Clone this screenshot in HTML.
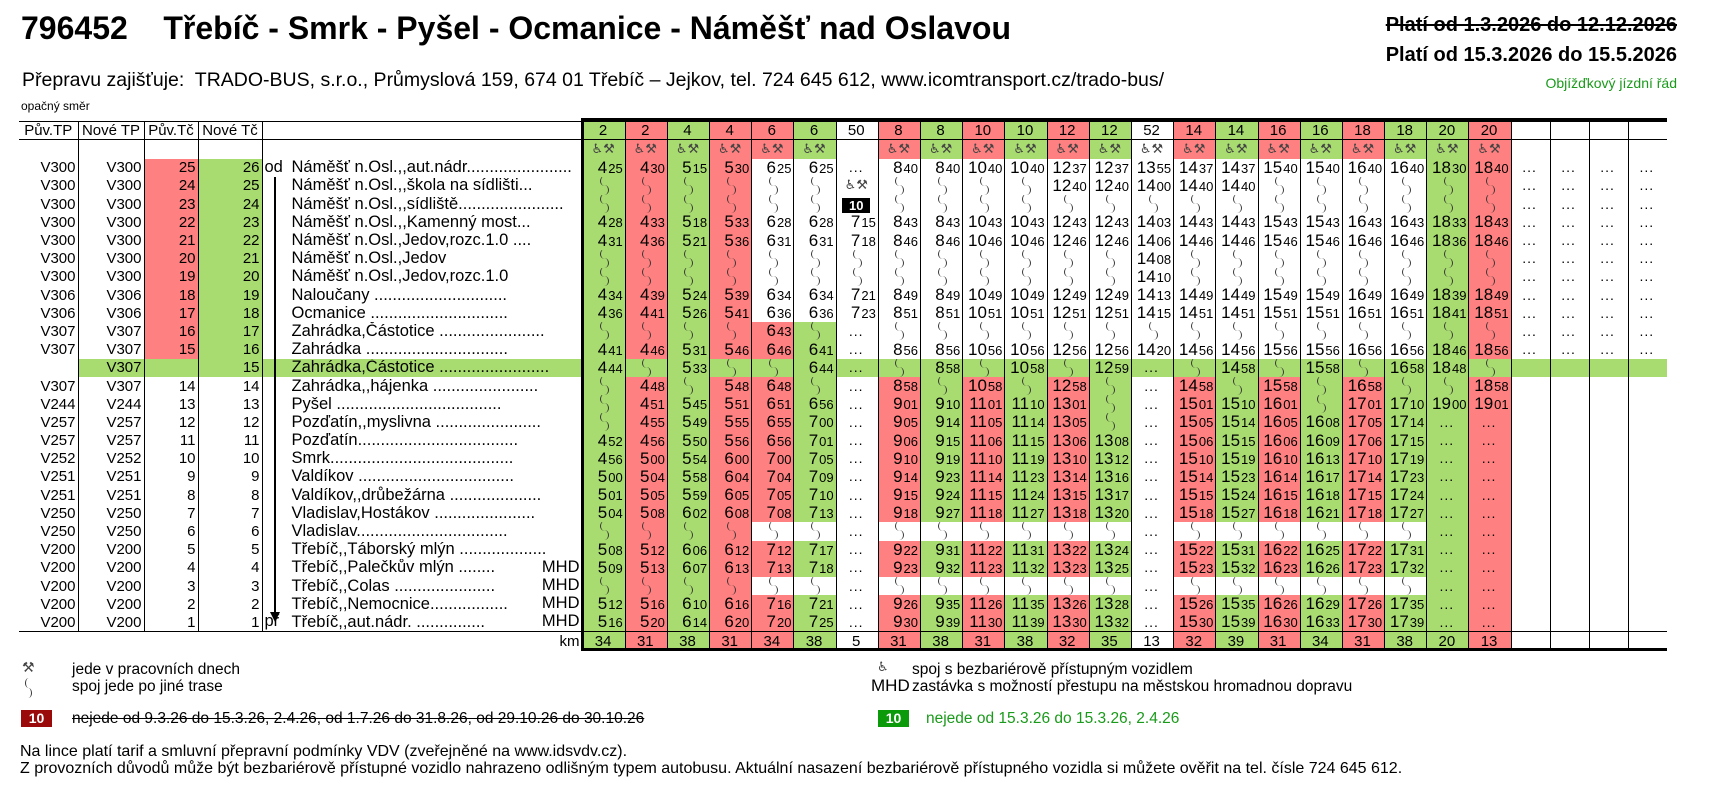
<!DOCTYPE html>
<html><head><meta charset="utf-8">
<style>
*{margin:0;padding:0;box-sizing:border-box}
body{width:1726px;height:798px;background:#fff;position:relative;overflow:hidden;font-family:"Liberation Sans",Arial,sans-serif;color:#000}
.a{position:absolute;white-space:nowrap}
.ico{font-family:"DejaVu Sans",sans-serif}
table{position:absolute;left:19px;top:121px;border-collapse:collapse;table-layout:fixed;width:1648px}
td{padding:0;white-space:nowrap;overflow:hidden;line-height:17px;font-size:17px;vertical-align:middle}
tr{height:18.2px}
tr.h td{height:18px;font-size:15px;text-align:center;border-top:1px solid #000;border-bottom:1px solid #000}
tr.ic td{height:19px;font-size:13px;color:#444;text-align:center;font-family:"DejaVu Sans",sans-serif}
tr.km td{height:18px;font-size:15px;text-align:center;border-top:1px solid #000}
td.L{font-size:15px;text-align:right;padding-right:2px;border-right:1px solid #000}
tr.km td.L{border-right:none}
td.n{position:relative;padding-left:29px;border-right:1px solid #000;font-size:16.5px}
td.n .od{position:absolute;left:2px;top:0;font-weight:normal}
td.n .m{position:absolute;right:3px;top:0;background:inherit}
.T{border-left:1px solid #000;text-align:right;padding-right:2px}
td i{font-style:normal;font-size:13px;margin-left:1px}
.w{background:#fff!important}
.R{background:#FF8080}.G{background:#A8DC70}
tr.g td{background:#A8DC70}
tr.g td.w{background:#fff}
td.d{text-align:center;font-size:14px;letter-spacing:1px}
td.s{position:relative}
td.s:before,td.s:after{content:"";position:absolute;left:calc(50% - 4px);width:8px;height:10px;border-radius:50%}
td.s:before{top:-1px;border-left:1px solid #333}
td.s:after{top:8px;left:calc(50% - 4px);border-right:1px solid #333}
.bd{display:inline-block;background:#000;color:#fff;font-weight:bold;font-size:13px;width:28px;line-height:15px;text-align:center}
</style></head><body>
<div class="a" style="left:21px;top:10px;font-size:32px;font-weight:bold;line-height:36px">796452&nbsp;&nbsp;&nbsp; Třebíč - Smrk - Pyšel - Ocmanice - Náměšť nad Oslavou</div>
<div class="a" style="right:49px;top:13px;font-size:20px;font-weight:bold;text-decoration:line-through;line-height:24px">Platí od 1.3.2026 do 12.12.2026</div>
<div class="a" style="right:49px;top:43px;font-size:20px;font-weight:bold;line-height:24px">Platí od 15.3.2026 do 15.5.2026</div>
<div class="a" style="right:49px;top:75px;font-size:14px;color:#1a9a1a;line-height:17px">Objížďkový jízdní řád</div>
<div class="a" style="left:22px;top:69px;font-size:19.5px;line-height:22px">Přepravu zajišťuje:&nbsp; TRADO-BUS, s.r.o., Průmyslová 159, 674 01 Třebíč – Jejkov, tel. 724 645 612, www.icomtransport.cz/trado-bus/</div>
<div class="a" style="left:21px;top:99px;font-size:12px;line-height:14px">opačný směr</div>

<table>
<colgroup><col style="width:59px"><col style="width:66px"><col style="width:54px"><col style="width:64px"><col style="width:321px">
<col class="G" style="width:42.2px"><col class="R" style="width:42.2px"><col class="G" style="width:42.2px"><col class="R" style="width:42.2px"><col class="R" style="width:42.2px"><col class="G" style="width:42.2px"><col style="width:42.2px"><col class="R" style="width:42.2px"><col class="G" style="width:42.2px"><col class="R" style="width:42.2px"><col class="G" style="width:42.2px"><col class="R" style="width:42.2px"><col class="G" style="width:42.2px"><col style="width:42.2px"><col class="R" style="width:42.2px"><col class="G" style="width:42.2px"><col class="R" style="width:42.2px"><col class="G" style="width:42.2px"><col class="R" style="width:42.2px"><col class="G" style="width:42.2px"><col class="G" style="width:42.2px"><col class="R" style="width:42.2px"><col style="width:39px"><col style="width:39px"><col style="width:39px"><col style="width:39px"></colgroup>
<tr class="h"><td style="border-right:1px solid #000">Pův.TP</td><td style="border-right:1px solid #000">Nové TP</td><td style="border-right:1px solid #000">Pův.Tč</td><td style="border-right:1px solid #000">Nové Tč</td><td></td><td class="T" style="text-align:center">2</td><td class="T" style="text-align:center">2</td><td class="T" style="text-align:center">4</td><td class="T" style="text-align:center">4</td><td class="T" style="text-align:center">6</td><td class="T" style="text-align:center">6</td><td class="T" style="text-align:center">50</td><td class="T" style="text-align:center">8</td><td class="T" style="text-align:center">8</td><td class="T" style="text-align:center">10</td><td class="T" style="text-align:center">10</td><td class="T" style="text-align:center">12</td><td class="T" style="text-align:center">12</td><td class="T" style="text-align:center">52</td><td class="T" style="text-align:center">14</td><td class="T" style="text-align:center">14</td><td class="T" style="text-align:center">16</td><td class="T" style="text-align:center">16</td><td class="T" style="text-align:center">18</td><td class="T" style="text-align:center">18</td><td class="T" style="text-align:center">20</td><td class="T" style="text-align:center">20</td><td class="T"></td><td class="T"></td><td class="T"></td><td class="T"></td></tr>
<tr class="ic"><td class="L"></td><td class="L"></td><td class="L"></td><td class="L"></td><td class="n"></td><td class="T" style="text-align:center">♿&#xFE0E;⚒&#xFE0E;</td><td class="T" style="text-align:center">♿&#xFE0E;⚒&#xFE0E;</td><td class="T" style="text-align:center">♿&#xFE0E;⚒&#xFE0E;</td><td class="T" style="text-align:center">♿&#xFE0E;⚒&#xFE0E;</td><td class="T" style="text-align:center">♿&#xFE0E;⚒&#xFE0E;</td><td class="T" style="text-align:center">♿&#xFE0E;⚒&#xFE0E;</td><td class="T"></td><td class="T" style="text-align:center">♿&#xFE0E;⚒&#xFE0E;</td><td class="T" style="text-align:center">♿&#xFE0E;⚒&#xFE0E;</td><td class="T" style="text-align:center">♿&#xFE0E;⚒&#xFE0E;</td><td class="T" style="text-align:center">♿&#xFE0E;⚒&#xFE0E;</td><td class="T" style="text-align:center">♿&#xFE0E;⚒&#xFE0E;</td><td class="T" style="text-align:center">♿&#xFE0E;⚒&#xFE0E;</td><td class="T" style="text-align:center">♿&#xFE0E;⚒&#xFE0E;</td><td class="T" style="text-align:center">♿&#xFE0E;⚒&#xFE0E;</td><td class="T" style="text-align:center">♿&#xFE0E;⚒&#xFE0E;</td><td class="T" style="text-align:center">♿&#xFE0E;⚒&#xFE0E;</td><td class="T" style="text-align:center">♿&#xFE0E;⚒&#xFE0E;</td><td class="T" style="text-align:center">♿&#xFE0E;⚒&#xFE0E;</td><td class="T" style="text-align:center">♿&#xFE0E;⚒&#xFE0E;</td><td class="T" style="text-align:center">♿&#xFE0E;⚒&#xFE0E;</td><td class="T" style="text-align:center">♿&#xFE0E;⚒&#xFE0E;</td><td class="T"></td><td class="T"></td><td class="T"></td><td class="T"></td></tr>
<tr><td class="L">V300</td><td class="L">V300</td><td class="L R">25</td><td class="L G">26</td><td class="n"><span class="od">od</span>Náměšť n.Osl.,,aut.nádr.......................</td><td class="T">4<i>25</i></td><td class="T">4<i>30</i></td><td class="T">5<i>15</i></td><td class="T">5<i>30</i></td><td class="T w">6<i>25</i></td><td class="T w">6<i>25</i></td><td class="T d">...</td><td class="T w">8<i>40</i></td><td class="T w">8<i>40</i></td><td class="T w">10<i>40</i></td><td class="T w">10<i>40</i></td><td class="T w">12<i>37</i></td><td class="T w">12<i>37</i></td><td class="T">13<i>55</i></td><td class="T w">14<i>37</i></td><td class="T w">14<i>37</i></td><td class="T w">15<i>40</i></td><td class="T w">15<i>40</i></td><td class="T w">16<i>40</i></td><td class="T w">16<i>40</i></td><td class="T">18<i>30</i></td><td class="T">18<i>40</i></td><td class="T d">...</td><td class="T d">...</td><td class="T d">...</td><td class="T d">...</td></tr>
<tr><td class="L">V300</td><td class="L">V300</td><td class="L R">24</td><td class="L G">25</td><td class="n">Náměšť n.Osl.,,škola na sídlišti...</td><td class="T s"></td><td class="T s"></td><td class="T s"></td><td class="T s"></td><td class="T s w"></td><td class="T s w"></td><td class="T ico" style="text-align:center;font-size:13px;color:#444">♿&#xFE0E;⚒&#xFE0E;</td><td class="T s w"></td><td class="T s w"></td><td class="T s w"></td><td class="T s w"></td><td class="T w">12<i>40</i></td><td class="T w">12<i>40</i></td><td class="T">14<i>00</i></td><td class="T w">14<i>40</i></td><td class="T w">14<i>40</i></td><td class="T s w"></td><td class="T s w"></td><td class="T s w"></td><td class="T s w"></td><td class="T s"></td><td class="T s"></td><td class="T d">...</td><td class="T d">...</td><td class="T d">...</td><td class="T d">...</td></tr>
<tr><td class="L">V300</td><td class="L">V300</td><td class="L R">23</td><td class="L G">24</td><td class="n">Náměšť n.Osl.,,sídliště.......................</td><td class="T s"></td><td class="T s"></td><td class="T s"></td><td class="T s"></td><td class="T s w"></td><td class="T s w"></td><td class="T" style="text-align:center"><span class="bd">10</span></td><td class="T s w"></td><td class="T s w"></td><td class="T s w"></td><td class="T s w"></td><td class="T s w"></td><td class="T s w"></td><td class="T s"></td><td class="T s w"></td><td class="T s w"></td><td class="T s w"></td><td class="T s w"></td><td class="T s w"></td><td class="T s w"></td><td class="T s"></td><td class="T s"></td><td class="T d">...</td><td class="T d">...</td><td class="T d">...</td><td class="T d">...</td></tr>
<tr><td class="L">V300</td><td class="L">V300</td><td class="L R">22</td><td class="L G">23</td><td class="n">Náměšť n.Osl.,,Kamenný most...</td><td class="T">4<i>28</i></td><td class="T">4<i>33</i></td><td class="T">5<i>18</i></td><td class="T">5<i>33</i></td><td class="T w">6<i>28</i></td><td class="T w">6<i>28</i></td><td class="T">7<i>15</i></td><td class="T w">8<i>43</i></td><td class="T w">8<i>43</i></td><td class="T w">10<i>43</i></td><td class="T w">10<i>43</i></td><td class="T w">12<i>43</i></td><td class="T w">12<i>43</i></td><td class="T">14<i>03</i></td><td class="T w">14<i>43</i></td><td class="T w">14<i>43</i></td><td class="T w">15<i>43</i></td><td class="T w">15<i>43</i></td><td class="T w">16<i>43</i></td><td class="T w">16<i>43</i></td><td class="T">18<i>33</i></td><td class="T">18<i>43</i></td><td class="T d">...</td><td class="T d">...</td><td class="T d">...</td><td class="T d">...</td></tr>
<tr><td class="L">V300</td><td class="L">V300</td><td class="L R">21</td><td class="L G">22</td><td class="n">Náměšť n.Osl.,Jedov,rozc.1.0 ....</td><td class="T">4<i>31</i></td><td class="T">4<i>36</i></td><td class="T">5<i>21</i></td><td class="T">5<i>36</i></td><td class="T w">6<i>31</i></td><td class="T w">6<i>31</i></td><td class="T">7<i>18</i></td><td class="T w">8<i>46</i></td><td class="T w">8<i>46</i></td><td class="T w">10<i>46</i></td><td class="T w">10<i>46</i></td><td class="T w">12<i>46</i></td><td class="T w">12<i>46</i></td><td class="T">14<i>06</i></td><td class="T w">14<i>46</i></td><td class="T w">14<i>46</i></td><td class="T w">15<i>46</i></td><td class="T w">15<i>46</i></td><td class="T w">16<i>46</i></td><td class="T w">16<i>46</i></td><td class="T">18<i>36</i></td><td class="T">18<i>46</i></td><td class="T d">...</td><td class="T d">...</td><td class="T d">...</td><td class="T d">...</td></tr>
<tr><td class="L">V300</td><td class="L">V300</td><td class="L R">20</td><td class="L G">21</td><td class="n">Náměšť n.Osl.,Jedov</td><td class="T s"></td><td class="T s"></td><td class="T s"></td><td class="T s"></td><td class="T s w"></td><td class="T s w"></td><td class="T s"></td><td class="T s w"></td><td class="T s w"></td><td class="T s w"></td><td class="T s w"></td><td class="T s w"></td><td class="T s w"></td><td class="T">14<i>08</i></td><td class="T s w"></td><td class="T s w"></td><td class="T s w"></td><td class="T s w"></td><td class="T s w"></td><td class="T s w"></td><td class="T s"></td><td class="T s"></td><td class="T d">...</td><td class="T d">...</td><td class="T d">...</td><td class="T d">...</td></tr>
<tr><td class="L">V300</td><td class="L">V300</td><td class="L R">19</td><td class="L G">20</td><td class="n">Náměšť n.Osl.,Jedov,rozc.1.0</td><td class="T s"></td><td class="T s"></td><td class="T s"></td><td class="T s"></td><td class="T s w"></td><td class="T s w"></td><td class="T s"></td><td class="T s w"></td><td class="T s w"></td><td class="T s w"></td><td class="T s w"></td><td class="T s w"></td><td class="T s w"></td><td class="T">14<i>10</i></td><td class="T s w"></td><td class="T s w"></td><td class="T s w"></td><td class="T s w"></td><td class="T s w"></td><td class="T s w"></td><td class="T s"></td><td class="T s"></td><td class="T d">...</td><td class="T d">...</td><td class="T d">...</td><td class="T d">...</td></tr>
<tr><td class="L">V306</td><td class="L">V306</td><td class="L R">18</td><td class="L G">19</td><td class="n">Naloučany .............................</td><td class="T">4<i>34</i></td><td class="T">4<i>39</i></td><td class="T">5<i>24</i></td><td class="T">5<i>39</i></td><td class="T w">6<i>34</i></td><td class="T w">6<i>34</i></td><td class="T">7<i>21</i></td><td class="T w">8<i>49</i></td><td class="T w">8<i>49</i></td><td class="T w">10<i>49</i></td><td class="T w">10<i>49</i></td><td class="T w">12<i>49</i></td><td class="T w">12<i>49</i></td><td class="T">14<i>13</i></td><td class="T w">14<i>49</i></td><td class="T w">14<i>49</i></td><td class="T w">15<i>49</i></td><td class="T w">15<i>49</i></td><td class="T w">16<i>49</i></td><td class="T w">16<i>49</i></td><td class="T">18<i>39</i></td><td class="T">18<i>49</i></td><td class="T d">...</td><td class="T d">...</td><td class="T d">...</td><td class="T d">...</td></tr>
<tr><td class="L">V306</td><td class="L">V306</td><td class="L R">17</td><td class="L G">18</td><td class="n">Ocmanice ..............................</td><td class="T">4<i>36</i></td><td class="T">4<i>41</i></td><td class="T">5<i>26</i></td><td class="T">5<i>41</i></td><td class="T w">6<i>36</i></td><td class="T w">6<i>36</i></td><td class="T">7<i>23</i></td><td class="T w">8<i>51</i></td><td class="T w">8<i>51</i></td><td class="T w">10<i>51</i></td><td class="T w">10<i>51</i></td><td class="T w">12<i>51</i></td><td class="T w">12<i>51</i></td><td class="T">14<i>15</i></td><td class="T w">14<i>51</i></td><td class="T w">14<i>51</i></td><td class="T w">15<i>51</i></td><td class="T w">15<i>51</i></td><td class="T w">16<i>51</i></td><td class="T w">16<i>51</i></td><td class="T">18<i>41</i></td><td class="T">18<i>51</i></td><td class="T d">...</td><td class="T d">...</td><td class="T d">...</td><td class="T d">...</td></tr>
<tr><td class="L">V307</td><td class="L">V307</td><td class="L R">16</td><td class="L G">17</td><td class="n">Zahrádka,Částotice .......................</td><td class="T s"></td><td class="T s"></td><td class="T s"></td><td class="T s"></td><td class="T">6<i>43</i></td><td class="T s"></td><td class="T d">...</td><td class="T s w"></td><td class="T s w"></td><td class="T s w"></td><td class="T s w"></td><td class="T s w"></td><td class="T s w"></td><td class="T s"></td><td class="T s w"></td><td class="T s w"></td><td class="T s w"></td><td class="T s w"></td><td class="T s w"></td><td class="T s w"></td><td class="T s"></td><td class="T s"></td><td class="T d">...</td><td class="T d">...</td><td class="T d">...</td><td class="T d">...</td></tr>
<tr><td class="L">V307</td><td class="L">V307</td><td class="L R">15</td><td class="L G">16</td><td class="n">Zahrádka ...............................</td><td class="T">4<i>41</i></td><td class="T">4<i>46</i></td><td class="T">5<i>31</i></td><td class="T">5<i>46</i></td><td class="T">6<i>46</i></td><td class="T">6<i>41</i></td><td class="T d">...</td><td class="T w">8<i>56</i></td><td class="T w">8<i>56</i></td><td class="T w">10<i>56</i></td><td class="T w">10<i>56</i></td><td class="T w">12<i>56</i></td><td class="T w">12<i>56</i></td><td class="T">14<i>20</i></td><td class="T w">14<i>56</i></td><td class="T w">14<i>56</i></td><td class="T w">15<i>56</i></td><td class="T w">15<i>56</i></td><td class="T w">16<i>56</i></td><td class="T w">16<i>56</i></td><td class="T">18<i>46</i></td><td class="T">18<i>56</i></td><td class="T d">...</td><td class="T d">...</td><td class="T d">...</td><td class="T d">...</td></tr>
<tr class="g"><td class="L w"></td><td class="L">V307</td><td class="L"></td><td class="L">15</td><td class="n">Zahrádka,Částotice ........................</td><td class="T">4<i>44</i></td><td class="T s"></td><td class="T">5<i>33</i></td><td class="T s"></td><td class="T s"></td><td class="T">6<i>44</i></td><td class="T d">...</td><td class="T s"></td><td class="T">8<i>58</i></td><td class="T s"></td><td class="T">10<i>58</i></td><td class="T s"></td><td class="T">12<i>59</i></td><td class="T d">...</td><td class="T s"></td><td class="T">14<i>58</i></td><td class="T s"></td><td class="T">15<i>58</i></td><td class="T s"></td><td class="T">16<i>58</i></td><td class="T">18<i>48</i></td><td class="T s"></td><td class="T"></td><td class="T"></td><td class="T"></td><td class="T"></td></tr>
<tr><td class="L">V307</td><td class="L">V307</td><td class="L">14</td><td class="L">14</td><td class="n">Zahrádka,,hájenka .......................</td><td class="T s"></td><td class="T">4<i>48</i></td><td class="T s"></td><td class="T">5<i>48</i></td><td class="T">6<i>48</i></td><td class="T s"></td><td class="T d">...</td><td class="T">8<i>58</i></td><td class="T s"></td><td class="T">10<i>58</i></td><td class="T s"></td><td class="T">12<i>58</i></td><td class="T s"></td><td class="T d">...</td><td class="T">14<i>58</i></td><td class="T s"></td><td class="T">15<i>58</i></td><td class="T s"></td><td class="T">16<i>58</i></td><td class="T s"></td><td class="T s"></td><td class="T">18<i>58</i></td><td class="T"></td><td class="T"></td><td class="T"></td><td class="T"></td></tr>
<tr><td class="L">V244</td><td class="L">V244</td><td class="L">13</td><td class="L">13</td><td class="n">Pyšel ....................................</td><td class="T s"></td><td class="T">4<i>51</i></td><td class="T">5<i>45</i></td><td class="T">5<i>51</i></td><td class="T">6<i>51</i></td><td class="T">6<i>56</i></td><td class="T d">...</td><td class="T">9<i>01</i></td><td class="T">9<i>10</i></td><td class="T">11<i>01</i></td><td class="T">11<i>10</i></td><td class="T">13<i>01</i></td><td class="T s"></td><td class="T d">...</td><td class="T">15<i>01</i></td><td class="T">15<i>10</i></td><td class="T">16<i>01</i></td><td class="T s"></td><td class="T">17<i>01</i></td><td class="T">17<i>10</i></td><td class="T">19<i>00</i></td><td class="T">19<i>01</i></td><td class="T"></td><td class="T"></td><td class="T"></td><td class="T"></td></tr>
<tr><td class="L">V257</td><td class="L">V257</td><td class="L">12</td><td class="L">12</td><td class="n">Pozďatín,,myslivna .......................</td><td class="T s"></td><td class="T">4<i>55</i></td><td class="T">5<i>49</i></td><td class="T">5<i>55</i></td><td class="T">6<i>55</i></td><td class="T">7<i>00</i></td><td class="T d">...</td><td class="T">9<i>05</i></td><td class="T">9<i>14</i></td><td class="T">11<i>05</i></td><td class="T">11<i>14</i></td><td class="T">13<i>05</i></td><td class="T s"></td><td class="T d">...</td><td class="T">15<i>05</i></td><td class="T">15<i>14</i></td><td class="T">16<i>05</i></td><td class="T">16<i>08</i></td><td class="T">17<i>05</i></td><td class="T">17<i>14</i></td><td class="T d">...</td><td class="T d">...</td><td class="T"></td><td class="T"></td><td class="T"></td><td class="T"></td></tr>
<tr><td class="L">V257</td><td class="L">V257</td><td class="L">11</td><td class="L">11</td><td class="n">Pozďatín...................................</td><td class="T">4<i>52</i></td><td class="T">4<i>56</i></td><td class="T">5<i>50</i></td><td class="T">5<i>56</i></td><td class="T">6<i>56</i></td><td class="T">7<i>01</i></td><td class="T d">...</td><td class="T">9<i>06</i></td><td class="T">9<i>15</i></td><td class="T">11<i>06</i></td><td class="T">11<i>15</i></td><td class="T">13<i>06</i></td><td class="T">13<i>08</i></td><td class="T d">...</td><td class="T">15<i>06</i></td><td class="T">15<i>15</i></td><td class="T">16<i>06</i></td><td class="T">16<i>09</i></td><td class="T">17<i>06</i></td><td class="T">17<i>15</i></td><td class="T d">...</td><td class="T d">...</td><td class="T"></td><td class="T"></td><td class="T"></td><td class="T"></td></tr>
<tr><td class="L">V252</td><td class="L">V252</td><td class="L">10</td><td class="L">10</td><td class="n">Smrk........................................</td><td class="T">4<i>56</i></td><td class="T">5<i>00</i></td><td class="T">5<i>54</i></td><td class="T">6<i>00</i></td><td class="T">7<i>00</i></td><td class="T">7<i>05</i></td><td class="T d">...</td><td class="T">9<i>10</i></td><td class="T">9<i>19</i></td><td class="T">11<i>10</i></td><td class="T">11<i>19</i></td><td class="T">13<i>10</i></td><td class="T">13<i>12</i></td><td class="T d">...</td><td class="T">15<i>10</i></td><td class="T">15<i>19</i></td><td class="T">16<i>10</i></td><td class="T">16<i>13</i></td><td class="T">17<i>10</i></td><td class="T">17<i>19</i></td><td class="T d">...</td><td class="T d">...</td><td class="T"></td><td class="T"></td><td class="T"></td><td class="T"></td></tr>
<tr><td class="L">V251</td><td class="L">V251</td><td class="L">9</td><td class="L">9</td><td class="n">Valdíkov ..................................</td><td class="T">5<i>00</i></td><td class="T">5<i>04</i></td><td class="T">5<i>58</i></td><td class="T">6<i>04</i></td><td class="T">7<i>04</i></td><td class="T">7<i>09</i></td><td class="T d">...</td><td class="T">9<i>14</i></td><td class="T">9<i>23</i></td><td class="T">11<i>14</i></td><td class="T">11<i>23</i></td><td class="T">13<i>14</i></td><td class="T">13<i>16</i></td><td class="T d">...</td><td class="T">15<i>14</i></td><td class="T">15<i>23</i></td><td class="T">16<i>14</i></td><td class="T">16<i>17</i></td><td class="T">17<i>14</i></td><td class="T">17<i>23</i></td><td class="T d">...</td><td class="T d">...</td><td class="T"></td><td class="T"></td><td class="T"></td><td class="T"></td></tr>
<tr><td class="L">V251</td><td class="L">V251</td><td class="L">8</td><td class="L">8</td><td class="n">Valdíkov,,drůbežárna ....................</td><td class="T">5<i>01</i></td><td class="T">5<i>05</i></td><td class="T">5<i>59</i></td><td class="T">6<i>05</i></td><td class="T">7<i>05</i></td><td class="T">7<i>10</i></td><td class="T d">...</td><td class="T">9<i>15</i></td><td class="T">9<i>24</i></td><td class="T">11<i>15</i></td><td class="T">11<i>24</i></td><td class="T">13<i>15</i></td><td class="T">13<i>17</i></td><td class="T d">...</td><td class="T">15<i>15</i></td><td class="T">15<i>24</i></td><td class="T">16<i>15</i></td><td class="T">16<i>18</i></td><td class="T">17<i>15</i></td><td class="T">17<i>24</i></td><td class="T d">...</td><td class="T d">...</td><td class="T"></td><td class="T"></td><td class="T"></td><td class="T"></td></tr>
<tr><td class="L">V250</td><td class="L">V250</td><td class="L">7</td><td class="L">7</td><td class="n">Vladislav,Hostákov ......................</td><td class="T">5<i>04</i></td><td class="T">5<i>08</i></td><td class="T">6<i>02</i></td><td class="T">6<i>08</i></td><td class="T">7<i>08</i></td><td class="T">7<i>13</i></td><td class="T d">...</td><td class="T">9<i>18</i></td><td class="T">9<i>27</i></td><td class="T">11<i>18</i></td><td class="T">11<i>27</i></td><td class="T">13<i>18</i></td><td class="T">13<i>20</i></td><td class="T d">...</td><td class="T">15<i>18</i></td><td class="T">15<i>27</i></td><td class="T">16<i>18</i></td><td class="T">16<i>21</i></td><td class="T">17<i>18</i></td><td class="T">17<i>27</i></td><td class="T d">...</td><td class="T d">...</td><td class="T"></td><td class="T"></td><td class="T"></td><td class="T"></td></tr>
<tr><td class="L">V250</td><td class="L">V250</td><td class="L">6</td><td class="L">6</td><td class="n">Vladislav.................................</td><td class="T s"></td><td class="T s"></td><td class="T s"></td><td class="T s"></td><td class="T s w"></td><td class="T s w"></td><td class="T d">...</td><td class="T s w"></td><td class="T s w"></td><td class="T s w"></td><td class="T s w"></td><td class="T s w"></td><td class="T s w"></td><td class="T d">...</td><td class="T s w"></td><td class="T s w"></td><td class="T s w"></td><td class="T s w"></td><td class="T s w"></td><td class="T s w"></td><td class="T d">...</td><td class="T d">...</td><td class="T"></td><td class="T"></td><td class="T"></td><td class="T"></td></tr>
<tr><td class="L">V200</td><td class="L">V200</td><td class="L">5</td><td class="L">5</td><td class="n">Třebíč,,Táborský mlýn ...................</td><td class="T">5<i>08</i></td><td class="T">5<i>12</i></td><td class="T">6<i>06</i></td><td class="T">6<i>12</i></td><td class="T">7<i>12</i></td><td class="T">7<i>17</i></td><td class="T d">...</td><td class="T">9<i>22</i></td><td class="T">9<i>31</i></td><td class="T">11<i>22</i></td><td class="T">11<i>31</i></td><td class="T">13<i>22</i></td><td class="T">13<i>24</i></td><td class="T d">...</td><td class="T">15<i>22</i></td><td class="T">15<i>31</i></td><td class="T">16<i>22</i></td><td class="T">16<i>25</i></td><td class="T">17<i>22</i></td><td class="T">17<i>31</i></td><td class="T d">...</td><td class="T d">...</td><td class="T"></td><td class="T"></td><td class="T"></td><td class="T"></td></tr>
<tr><td class="L">V200</td><td class="L">V200</td><td class="L">4</td><td class="L">4</td><td class="n">Třebíč,,Palečkův mlýn ........<span class="m">MHD</span></td><td class="T">5<i>09</i></td><td class="T">5<i>13</i></td><td class="T">6<i>07</i></td><td class="T">6<i>13</i></td><td class="T">7<i>13</i></td><td class="T">7<i>18</i></td><td class="T d">...</td><td class="T">9<i>23</i></td><td class="T">9<i>32</i></td><td class="T">11<i>23</i></td><td class="T">11<i>32</i></td><td class="T">13<i>23</i></td><td class="T">13<i>25</i></td><td class="T d">...</td><td class="T">15<i>23</i></td><td class="T">15<i>32</i></td><td class="T">16<i>23</i></td><td class="T">16<i>26</i></td><td class="T">17<i>23</i></td><td class="T">17<i>32</i></td><td class="T d">...</td><td class="T d">...</td><td class="T"></td><td class="T"></td><td class="T"></td><td class="T"></td></tr>
<tr><td class="L">V200</td><td class="L">V200</td><td class="L">3</td><td class="L">3</td><td class="n">Třebíč,,Colas ......................<span class="m">MHD</span></td><td class="T s"></td><td class="T s"></td><td class="T s"></td><td class="T s"></td><td class="T s w"></td><td class="T s w"></td><td class="T d">...</td><td class="T s w"></td><td class="T s w"></td><td class="T s w"></td><td class="T s w"></td><td class="T s w"></td><td class="T s w"></td><td class="T d">...</td><td class="T s w"></td><td class="T s w"></td><td class="T s w"></td><td class="T s w"></td><td class="T s w"></td><td class="T s w"></td><td class="T d">...</td><td class="T d">...</td><td class="T"></td><td class="T"></td><td class="T"></td><td class="T"></td></tr>
<tr><td class="L">V200</td><td class="L">V200</td><td class="L">2</td><td class="L">2</td><td class="n">Třebíč,,Nemocnice.................<span class="m">MHD</span></td><td class="T">5<i>12</i></td><td class="T">5<i>16</i></td><td class="T">6<i>10</i></td><td class="T">6<i>16</i></td><td class="T">7<i>16</i></td><td class="T">7<i>21</i></td><td class="T d">...</td><td class="T">9<i>26</i></td><td class="T">9<i>35</i></td><td class="T">11<i>26</i></td><td class="T">11<i>35</i></td><td class="T">13<i>26</i></td><td class="T">13<i>28</i></td><td class="T d">...</td><td class="T">15<i>26</i></td><td class="T">15<i>35</i></td><td class="T">16<i>26</i></td><td class="T">16<i>29</i></td><td class="T">17<i>26</i></td><td class="T">17<i>35</i></td><td class="T d">...</td><td class="T d">...</td><td class="T"></td><td class="T"></td><td class="T"></td><td class="T"></td></tr>
<tr><td class="L">V200</td><td class="L">V200</td><td class="L">1</td><td class="L">1</td><td class="n"><span class="od">př</span>Třebíč,,aut.nádr. ...............<span class="m">MHD</span></td><td class="T">5<i>16</i></td><td class="T">5<i>20</i></td><td class="T">6<i>14</i></td><td class="T">6<i>20</i></td><td class="T">7<i>20</i></td><td class="T">7<i>25</i></td><td class="T d">...</td><td class="T">9<i>30</i></td><td class="T">9<i>39</i></td><td class="T">11<i>30</i></td><td class="T">11<i>39</i></td><td class="T">13<i>30</i></td><td class="T">13<i>32</i></td><td class="T d">...</td><td class="T">15<i>30</i></td><td class="T">15<i>39</i></td><td class="T">16<i>30</i></td><td class="T">16<i>33</i></td><td class="T">17<i>30</i></td><td class="T">17<i>39</i></td><td class="T d">...</td><td class="T d">...</td><td class="T"></td><td class="T"></td><td class="T"></td><td class="T"></td></tr>
<tr class="km"><td></td><td></td><td></td><td></td><td style="text-align:right;padding-right:3px">km</td><td class="T" style="text-align:center">34</td><td class="T" style="text-align:center">31</td><td class="T" style="text-align:center">38</td><td class="T" style="text-align:center">31</td><td class="T" style="text-align:center">34</td><td class="T" style="text-align:center">38</td><td class="T" style="text-align:center">5</td><td class="T" style="text-align:center">31</td><td class="T" style="text-align:center">38</td><td class="T" style="text-align:center">31</td><td class="T" style="text-align:center">38</td><td class="T" style="text-align:center">32</td><td class="T" style="text-align:center">35</td><td class="T" style="text-align:center">13</td><td class="T" style="text-align:center">32</td><td class="T" style="text-align:center">39</td><td class="T" style="text-align:center">31</td><td class="T" style="text-align:center">34</td><td class="T" style="text-align:center">31</td><td class="T" style="text-align:center">38</td><td class="T" style="text-align:center">20</td><td class="T" style="text-align:center">13</td><td class="T"></td><td class="T"></td><td class="T"></td><td class="T"></td></tr>
</table>

<div class="a" style="left:581px;top:118px;width:1086px;height:4px;background:#000"></div>
<div class="a" style="left:581px;top:118px;width:3px;height:533px;background:#000"></div>
<div class="a" style="left:581px;top:648px;width:1086px;height:3px;background:#000"></div>
<div class="a" style="left:274px;top:177px;width:2px;height:440px;background:#000"></div>
<div class="a" style="left:270px;top:612px;width:0;height:0;border-left:5px solid transparent;border-right:5px solid transparent;border-top:10px solid #000"></div>

<div class="a ico" style="left:22px;top:660px;font-size:14px;color:#444">⚒&#xFE0E;</div>
<div class="a" style="left:25px;top:678px;width:8px;height:20px">
<div style="position:absolute;left:0;top:0;width:7px;height:10px;border-left:1px solid #333;border-radius:50%"></div>
<div style="position:absolute;left:0;top:10px;width:7px;height:10px;border-right:1px solid #333;border-radius:50%"></div></div>
<div class="a" style="left:72px;top:661px;font-size:15.5px;line-height:17px">jede v pracovních dnech</div>
<div class="a" style="left:72px;top:678px;font-size:15.5px;line-height:17px">spoj jede po jiné trase</div>
<div class="a ico" style="left:877px;top:660px;font-size:13px;color:#444">♿&#xFE0E;</div>
<div class="a" style="left:871px;top:676px;font-size:17px;line-height:20px">MHD</div>
<div class="a" style="left:912px;top:661px;font-size:15.5px;line-height:17px">spoj s bezbariérově přístupným vozidlem</div>
<div class="a" style="left:912px;top:678px;font-size:15.5px;line-height:17px">zastávka s možností přestupu na městskou hromadnou dopravu</div>
<div class="a" style="left:21px;top:710px;width:31px;height:17px;background:#9a0a0a;color:#fff;font-weight:bold;font-size:14px;line-height:17px;text-align:center">10</div>
<div class="a" style="left:72px;top:710px;font-size:15.5px;line-height:17px;text-decoration:line-through">nejede od 9.3.26 do 15.3.26, 2.4.26, od 1.7.26 do 31.8.26, od 29.10.26 do 30.10.26</div>
<div class="a" style="left:878px;top:710px;width:31px;height:17px;background:#0a9a0a;color:#fff;font-weight:bold;font-size:14px;line-height:17px;text-align:center">10</div>
<div class="a" style="left:926px;top:710px;font-size:15.5px;line-height:17px;color:#1a9a1a">nejede od 15.3.26 do 15.3.26, 2.4.26</div>
<div class="a" style="left:20px;top:743px;font-size:16px;line-height:17px">Na lince platí tarif a smluvní přepravní podmínky VDV (zveřejněné na www.idsvdv.cz).</div>
<div class="a" style="left:20px;top:760px;font-size:16px;line-height:17px">Z provozních důvodů může být bezbariérově přístupné vozidlo nahrazeno odlišným typem autobusu. Aktuální nasazení bezbariérově přístupného vozidla si můžete ověřit na tel. čísle 724 645 612.</div>
</body></html>
